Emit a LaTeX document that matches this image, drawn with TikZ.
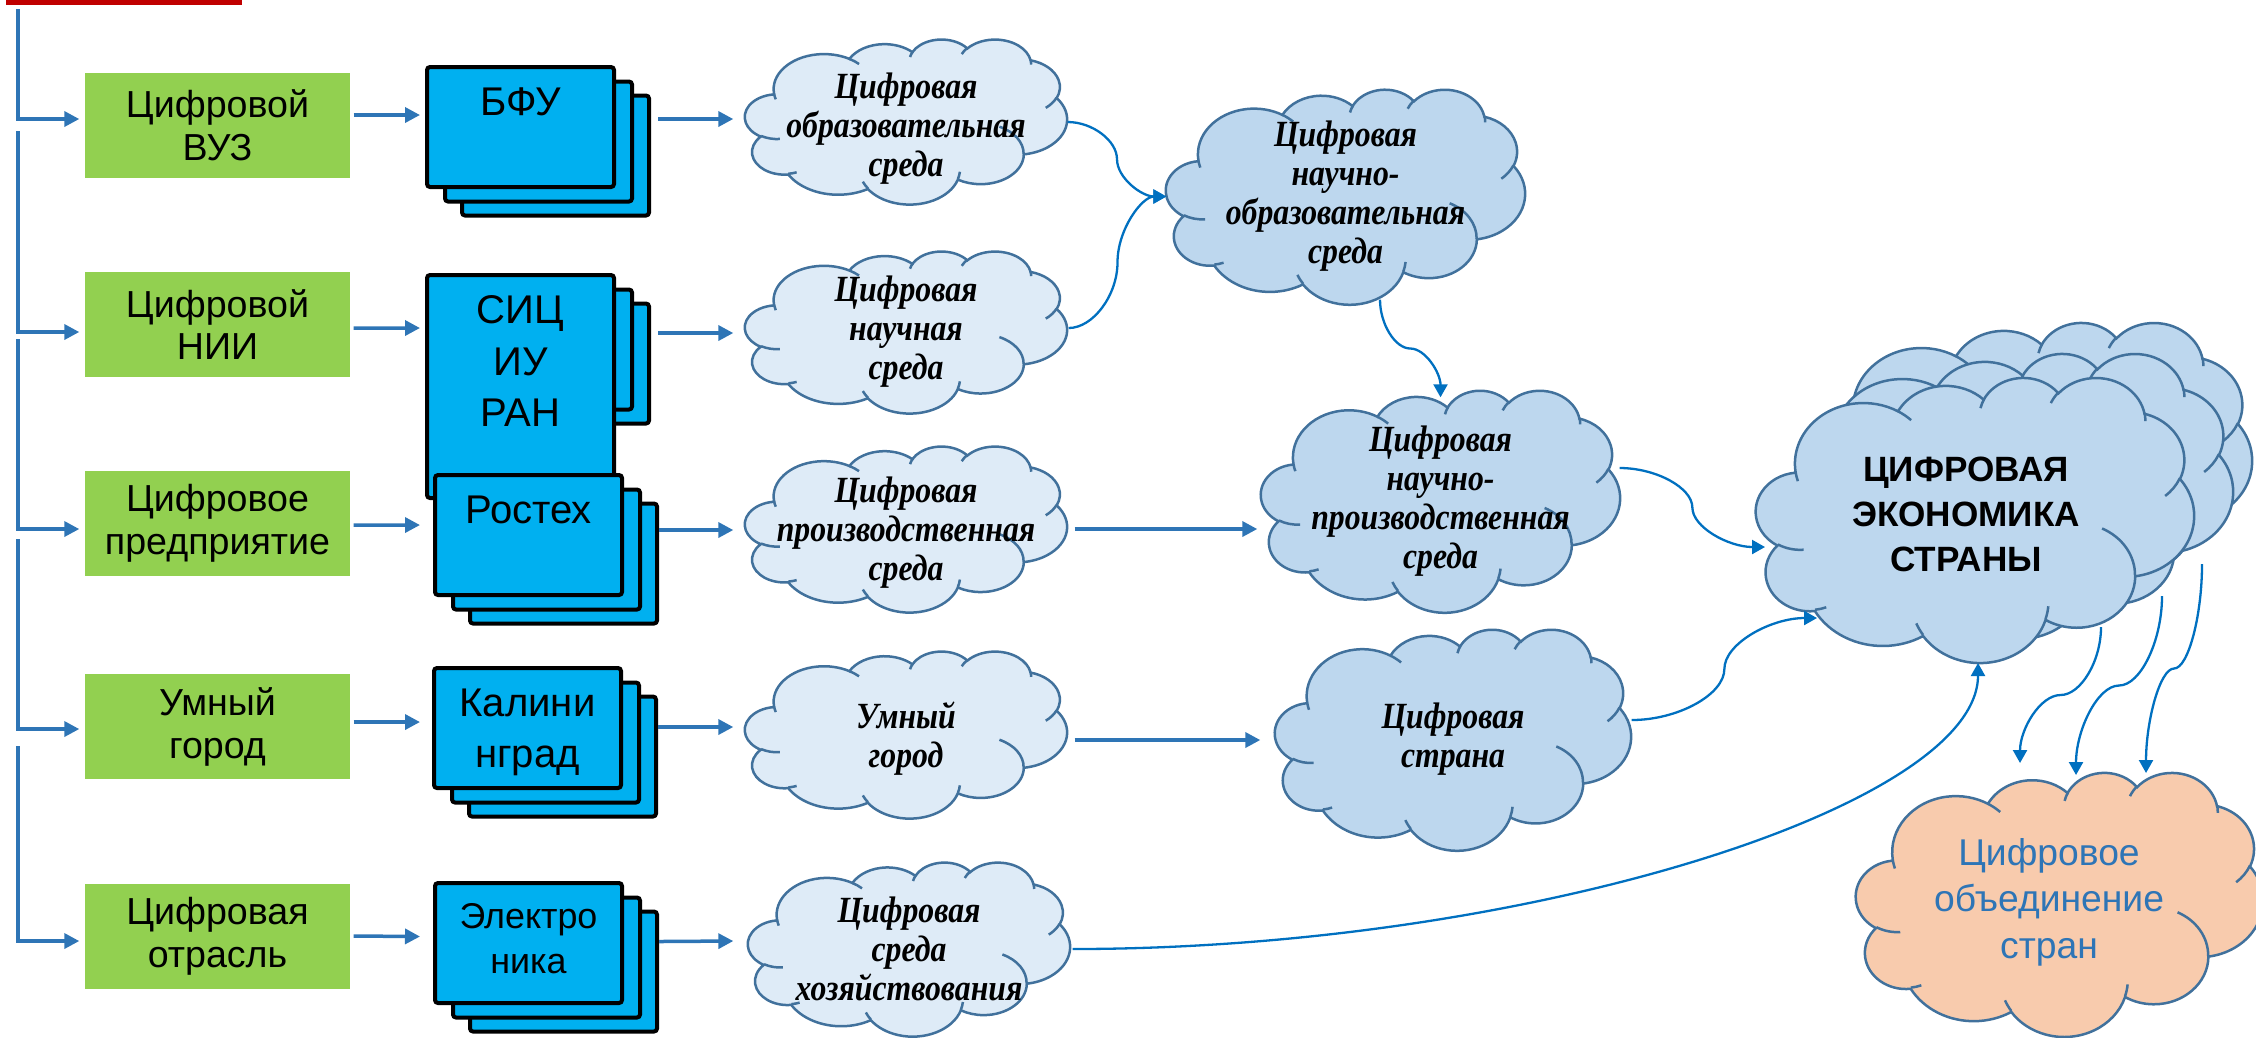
\documentclass[tikz,border=0pt]{standalone}
\usepackage{fontspec}
\setmainfont{Liberation Sans}
\newfontfamily\cloudserif[FakeStretch=0.86]{Liberation Serif}
\usetikzlibrary{arrows.meta,calc}

\definecolor{gboxc}{HTML}{92D050}
\definecolor{bboxc}{HTML}{00B0F0}
\definecolor{cloudA}{HTML}{DEEBF7}
\definecolor{cloudB}{HTML}{BDD7EE}
\definecolor{cloudO}{HTML}{F8CBAD}
\definecolor{cloudline}{HTML}{41719C}
\definecolor{arrowA}{HTML}{2E75B6}
\definecolor{arrowB}{HTML}{0070C0}
\definecolor{redbar}{HTML}{C00000}
\definecolor{otext}{HTML}{2E75B6}

\newcommand\mygfont{\fontsize{10.7pt}{12.2pt}\selectfont}
\newcommand\mybfontA{\fontsize{11.4pt}{14.6pt}\selectfont}
\newcommand\mybfontB{\fontsize{10.2pt}{12.8pt}\selectfont}
\newcommand\mycfont{\cloudserif\bfseries\itshape\fontsize{10.5pt}{11.1pt}\selectfont}
\newcommand\mybigfont{\bfseries\fontsize{10pt}{12.8pt}\selectfont}
\newcommand\myofont{\fontsize{10.6pt}{13.2pt}\selectfont}

% elliptical arc with DrawingML (visual) angles
\newcommand\pa[4]{arc[start angle={atan2(#1*sin(#3),#2*cos(#3))},delta angle={mod(atan2(#1*sin(#3+#4),#2*cos(#3+#4))-atan2(#1*sin(#3),#2*cos(#3))+720,360)},x radius=#1,y radius=#2]}

\newcommand\cloudouter{(3.900,14.370) \pa{6.753}{9.190}{-190.4875}{123.7805} \pa{5.333}{7.267}{-144.1024}{89.9452} \pa{4.365}{5.945}{-145.8079}{99.7230} \pa{4.857}{6.595}{-130.9861}{117.2417} \pa{5.333}{7.273}{-78.7089}{109.0269} \pa{6.775}{9.220}{-46.2673}{130.2690} \pa{5.785}{7.867}{0.6250}{114.0333} \pa{6.752}{9.215}{22.4516}{115.1726} \pa{7.720}{10.543}{66.2426}{75.7110} \pa{4.360}{5.918}{-274.9421}{146.7356} \pa{4.345}{5.945}{-246.8285}{152.5225} -- cycle}

\newcommand\cloudinner{(4.693,26.177) \pa{4.345}{5.945}{86.7420}{26.4295} (6.928,34.899) \pa{4.360}{5.918}{73.6105}{11.4475} (16.478,39.090) \pa{6.752}{9.215}{137.6242}{14.0811} (28.827,34.751) \pa{6.752}{9.215}{6.4533}{15.9984} (34.129,22.954) \pa{5.785}{7.867}{-70.2924}{70.9174} (41.798,15.354) \pa{5.333}{7.273}{30.3180}{27.7515} (38.324,5.426) \pa{4.857}{6.595}{-13.7443}{14.8589} (29.078,3.952) \pa{4.857}{6.595}{-149.1815}{18.1954} (22.141,4.720) \pa{4.365}{5.945}{-163.4943}{17.6864} (14.000,5.192) \pa{6.753}{9.190}{-66.7070}{12.3194} (4.127,15.789) \pa{6.753}{9.190}{157.6544}{11.8582}}

% #1 left, #2 top, #3 width, #4 height, #5 fill
\newcommand\drawcloud[5]{%
  \begin{scope}[shift={(#1,#2)},xscale=#3/43.2,yscale=#4/43.2]
    \path[cloudedge,fill=#5] \cloudouter;
    \path[cloudedge] \cloudinner;
  \end{scope}}

% #1 name, #2 left, #3 top, #4 front height, #5 text, #6 font
\newcommand\bstack[6]{%
  \node[bbox] (#1back) at (#2+130.5,#3+90.5) {};
  \node[bbox] (#1mid) at (#2+113.5,#3+76.5) {};
  \node[bbox,minimum height={(#4-4)*0.1mm}] (#1) at (#2+95.5,#3+#4/2) {};
  \node[btext,font=#6] (#1text) at ($(#1.north)+(0,22)$) {#5};}

\begin{document}
\begin{tikzpicture}[x=0.1mm,y=-0.1mm,
  gbox/.style={fill=gboxc,draw=none,minimum width=26.5mm,minimum height=10.5mm,inner sep=0pt,align=center,font=\mygfont},
  bbox/.style={fill=bboxc,draw=black,line width=0.4mm,rounded corners=0.3mm,minimum width=18.7mm,minimum height=12mm,inner sep=0pt},
  btext/.style={anchor=north,inner sep=0pt,align=center},
  ctext/.style={inner sep=0pt,align=center,font=\mycfont},
  cloudedge/.style={draw=cloudline,line width=0.25mm},
  thickarr/.style={draw=arrowA,line width=0.35mm,-{Triangle[length=1.5mm,width=1.5mm]}},
  curvearr/.style={draw=arrowB,line width=0.23mm,-{Triangle[length=1.3mm,width=1.4mm]}},
  hS/.style={to path={let \p1=(\tikztostart),\p2=(\tikztotarget) in .. controls ({0.75*\x1+0.25*\x2},\y1) and ({0.5*\x1+0.5*\x2},{0.75*\y1+0.25*\y2}) .. ({0.5*\x1+0.5*\x2},{0.5*\y1+0.5*\y2}) .. controls ({0.5*\x1+0.5*\x2},{0.25*\y1+0.75*\y2}) and ({0.25*\x1+0.75*\x2},\y2) .. (\tikztotarget)}},
  vS/.style={to path={let \p1=(\tikztostart),\p2=(\tikztotarget) in .. controls (\x1,{0.75*\y1+0.25*\y2}) and ({0.75*\x1+0.25*\x2},{0.5*\y1+0.5*\y2}) .. ({0.5*\x1+0.5*\x2},{0.5*\y1+0.5*\y2}) .. controls ({0.25*\x1+0.75*\x2},{0.5*\y1+0.5*\y2}) and (\x2,{0.25*\y1+0.75*\y2}) .. (\tikztotarget)}},
  hv/.style={to path={let \p1=(\tikztostart),\p2=(\tikztotarget) in .. controls ({0.5*\x1+0.5*\x2},\y1) and (\x2,{0.5*\y1+0.5*\y2}) .. (\tikztotarget)}}
]
\useasboundingbox (0,0) rectangle (2256,1037);

% red bar
\fill[redbar] (6,0) rectangle (242,5);

% green boxes
\node[gbox] (g1) at (217.5,125.5) {Цифровой\\ВУЗ};
\node[gbox] (g2) at (217.5,324.5) {Цифровой\\НИИ};
\node[gbox] (g3) at (217.5,523.5) {Цифровое\\предприятие};
\node[gbox] (g4) at (217.5,726.5) {Умный\\город};
\node[gbox] (g5) at (217.5,936.5) {Цифровая\\отрасль};

% blue stacks
\bstack{b1}{425}{65}{124}{БФУ}{\mybfontA}
\bstack{b2}{425}{273}{227}{СИЦ\\ИУ\\РАН}{\mybfontA}
\bstack{b3}{433}{473}{124}{Ростех}{\mybfontA}
\bstack{b4}{432}{666}{124}{Калини\\нград}{\mybfontA}
\bstack{b5}{433}{881}{124}{Электро\\ника}{\mybfontB}

% clouds
\drawcloud{745}{39}{322}{165}{cloudA}
\node[ctext,minimum width=32.2mm,minimum height=16.5mm] (c1) at (906,128.5) {Цифровая\\образовательная\\среда};
\drawcloud{745}{251}{322}{162}{cloudA}
\node[ctext,minimum width=32.2mm,minimum height=16.2mm] (c2) at (906,332) {Цифровая\\научная\\среда};
\drawcloud{745}{446}{322}{166}{cloudA}
\node[ctext,minimum width=32.2mm,minimum height=16.6mm] (c3) at (906,533) {Цифровая\\производственная\\среда};
\drawcloud{745}{651}{322}{167}{cloudA}
\node[ctext,minimum width=32.2mm,minimum height=16.7mm] (c4) at (906,738.5) {Умный\\город};
\drawcloud{748}{862}{322}{174}{cloudA}
\node[ctext,minimum width=32.2mm,minimum height=17.4mm] (c5) at (909,949) {Цифровая\\среда\\хозяйствования};
\drawcloud{1166}{89}{359}{215}{cloudB}
\node[ctext,minimum width=35.9mm,minimum height=21.5mm] (c6) at (1345.5,196.5) {Цифровая\\научно-\\образовательная\\среда};
\drawcloud{1261}{390}{359}{222}{cloudB}
\node[ctext,minimum width=35.9mm,minimum height=22.2mm] (c7) at (1440.5,501) {Цифровая\\научно-\\производственная\\среда};
\drawcloud{1275}{629}{356}{221}{cloudB}
\node[ctext,minimum width=35.6mm,minimum height=22.1mm] (c8) at (1453,739.5) {Цифровая\\страна};
\drawcloud{1814}{322}{438}{285}{cloudB}
\drawcloud{1795}{353}{438}{285}{cloudB}
\drawcloud{1756}{377}{438}{285}{cloudB}
\node[inner sep=0pt,align=center,font=\mybigfont,minimum width=43.8mm,minimum height=28.5mm] (big) at (1966,514) {ЦИФРОВАЯ\\ЭКОНОМИКА\\СТРАНЫ};
\drawcloud{1856}{772}{407}{264}{cloudO}
\node[inner sep=0pt,align=center,font=\myofont,text=otext,minimum width=40.7mm,minimum height=26.4mm] (orange) at (2049,902) {Цифровое\\объединение\\стран};

% left elbow connectors
\coordinate (s1) at (18,9);
\coordinate (s2) at (18,131);
\coordinate (s3) at (18,339);
\coordinate (s4) at (18,539);
\coordinate (s5) at (18,746);
\draw[thickarr] (s1) |- ($(g1.west)+(-5,-6.5)$);
\draw[thickarr] (s2) |- ($(g2.west)+(-5,7.5)$);
\draw[thickarr] (s3) |- ($(g3.west)+(-5,5.5)$);
\draw[thickarr] (s4) |- ($(g4.west)+(-5,2.5)$);
\draw[thickarr] (s5) |- ($(g5.west)+(-5,4.5)$);

% green -> blue
\draw[thickarr] ($(g1.east)+(3,-10.5)$) -- ($(b1.west)+(-5,-12)$);
\draw[thickarr] ($(g2.east)+(3,3.5)$) -- ($(b2.west)+(-5,-58.5)$);
\draw[thickarr] ($(g3.east)+(3,1.5)$) -- ($(b3.west)+(-13,-10)$);
\draw[thickarr] ($(g4.east)+(3,-4.5)$) -- ($(b4.west)+(-12,-6)$);
\draw[thickarr] ($(g5.east)+(3,-0.5)$) -- ($(b5.west)+(-13,-6.5)$);

% blue -> clouds
\draw[thickarr] ($(b1.east)+(42,-8)$) -- ($(c1.west)+(-11,-9.5)$);
\draw[thickarr] ($(b2.east)+(42,-53.5)$) -- ($(c2.west)+(-11,1)$);
\draw[thickarr] ($(b3.east)+(35,-5)$) -- ($(c3.west)+(-11,-3)$);
\draw[thickarr] ($(b4.east)+(35,-1)$) -- ($(c4.west)+(-11,-11.5)$);
\draw[thickarr] ($(b5.east)+(35,-1.5)$) -- ($(c5.west)+(-14,-8)$);

% cloud -> cloud straight
\draw[thickarr] ($(c3.east)+(7,-4)$) -- ($(c7.west)+(-3,28)$);
\draw[thickarr] ($(c4.east)+(7,1.5)$) -- ($(c8.west)+(-14,0.5)$);

% curved connectors
\draw[curvearr] ($(c1.east)+(0,-6.5)$) to[hS] ($(c6.west)+(1,0)$);
\draw[curvearr] ($(c2.east)+(1,-4)$) to[hS] ($(c6.west)+(1,0)$);
\draw[curvearr] ($(c6.south)+(34.5,-5)$) to[vS] ($(c7.north)+(0,8)$);
\draw[curvearr] ($(c7.east)+(-1,-33)$) to[hS] ($(big.center)+(-201,33)$);
\draw[curvearr] ($(c8.east)+(0,-19.5)$) to[hS] ($(big.center)+(-149,104)$);
\draw[curvearr] ($(c5.east)+(2,0)$) to[hv] ($(big.center)+(12,149)$);
\draw[curvearr] ($(big.center)+(135,113)$) to[vS] ($(orange.center)+(-29,-139)$);
\draw[curvearr] ($(big.center)+(196,82)$) to[vS] ($(orange.center)+(27,-127)$);
\draw[curvearr] ($(big.center)+(236,50)$) to[vS] ($(orange.center)+(97,-129)$);
\end{tikzpicture}
\end{document}
